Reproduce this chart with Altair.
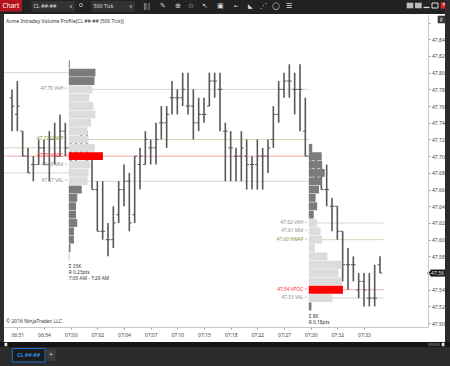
import altair as alt
import pandas as pd

# ---------------- data ----------------
bar_idx = list(range(70))
highs = [47.78, 47.79, 47.73, 47.71, 47.70, 47.72, 47.72, 47.73, 47.74, 47.75,
         47.74, 47.72, 47.72, 47.73, 47.73, 47.70, 47.67, 47.67, 47.62, 47.64,
         47.67, 47.69, 47.68, 47.70, 47.71, 47.73, 47.72, 47.74, 47.76, 47.76,
         47.79, 47.78, 47.80, 47.80, 47.78, 47.77, 47.77, 47.80, 47.80, 47.80,
         47.74, 47.73, 47.71, 47.73, 47.72, 47.70, 47.72, 47.71, 47.72, 47.76,
         47.79, 47.80, 47.81, 47.80, 47.81, 47.77, 47.71, 47.70, 47.69, 47.69,
         47.65, 47.64, 47.61, 47.59, 47.58, 47.56, 47.56, 47.56, 47.57, 47.58]
lows = [47.73, 47.73, 47.70, 47.68, 47.67, 47.69, 47.69, 47.67, 47.69, 47.70,
        47.70, 47.69, 47.69, 47.70, 47.69, 47.66, 47.61, 47.60, 47.58, 47.59,
        47.62, 47.64, 47.61, 47.62, 47.66, 47.69, 47.69, 47.69, 47.72, 47.71,
        47.75, 47.75, 47.76, 47.75, 47.72, 47.73, 47.74, 47.76, 47.77, 47.73,
        47.67, 47.67, 47.67, 47.67, 47.66, 47.66, 47.66, 47.66, 47.68, 47.71,
        47.74, 47.77, 47.77, 47.75, 47.73, 47.70, 47.68, 47.67, 47.66, 47.64,
        47.61, 47.60, 47.55, 47.54, 47.55, 47.53, 47.52, 47.52, 47.52, 47.56]
opens = [47.77, 47.75, 47.73, 47.70, 47.69, 47.69, 47.71, 47.69, 47.72, 47.70,
         47.73, 47.71, 47.70, 47.71, 47.72, 47.70, 47.66, 47.61, 47.60, 47.60,
         47.63, 47.66, 47.67, 47.63, 47.69, 47.69, 47.71, 47.71, 47.74, 47.74,
         47.77, 47.77, 47.77, 47.76, 47.76, 47.74, 47.75, 47.76, 47.79, 47.78,
         47.73, 47.71, 47.70, 47.70, 47.70, 47.69, 47.69, 47.70, 47.70, 47.72,
         47.75, 47.78, 47.79, 47.78, 47.78, 47.73, 47.70, 47.69, 47.68, 47.66,
         47.64, 47.64, 47.61, 47.57, 47.57, 47.54, 47.55, 47.53, 47.53, 47.57]
closes = [47.76, 47.76, 47.70, 47.68, 47.69, 47.71, 47.69, 47.72, 47.70, 47.73,
          47.71, 47.70, 47.71, 47.72, 47.70, 47.66, 47.61, 47.61, 47.60, 47.62,
          47.66, 47.67, 47.62, 47.70, 47.70, 47.72, 47.71, 47.72, 47.74, 47.75,
          47.77, 47.77, 47.78, 47.76, 47.74, 47.75, 47.75, 47.79, 47.79, 47.78,
          47.73, 47.71, 47.70, 47.71, 47.69, 47.69, 47.70, 47.70, 47.71, 47.75,
          47.78, 47.79, 47.79, 47.78, 47.78, 47.70, 47.69, 47.68, 47.66, 47.66,
          47.64, 47.61, 47.57, 47.57, 47.57, 47.55, 47.54, 47.53, 47.53, 47.56]

time_tick_bars = [1, 6, 11, 16, 21, 26, 31, 36, 41, 46, 51, 56, 61, 66]
time_labels = ["06:51", "06:54", "07:00", "07:02", "07:04", "07:07", "07:10",
               "07:15", "07:18", "07:22", "07:27", "07:30", "07:32", "07:33"]
price_ticks = [47.50, 47.52, 47.54, 47.56, 47.58, 47.60, 47.62, 47.64, 47.66,
               47.68, 47.70, 47.72, 47.74, 47.76, 47.78, 47.80, 47.82, 47.84, 47.86]

p1_prices = [47.81, 47.80, 47.79, 47.78, 47.77, 47.76, 47.75, 47.74, 47.73, 47.72,
             47.71, 47.70, 47.69, 47.68, 47.67, 47.66, 47.65, 47.64, 47.63, 47.62,
             47.61, 47.60, 47.59, 47.58]
p1_vols = [90, 2260, 2180, 2000, 1740, 2090, 2260, 1890, 1590, 1680,
           2200, 2900, 1830, 1680, 1590, 1100, 720, 610, 610, 720,
           440, 440, 150, 40]
p2_prices = [47.71, 47.70, 47.69, 47.68, 47.67, 47.66, 47.65, 47.64, 47.63, 47.62,
             47.61, 47.60, 47.59, 47.58, 47.57, 47.56, 47.55, 47.54, 47.53, 47.52]
p2_vols = [90, 340, 350, 420, 340, 270, 180, 220, 130, 220,
           310, 350, 160, 490, 880, 780, 880, 900, 620, 70]

sessions = [0, 1, 2]
session_start_bar = [-2, 11, 56]
session_end_bar = [11, 56, 70]

level_session = [0, 0, 0, 0, 1, 1, 1, 1, 1, 2, 2, 2, 2, 2]
level_name = ["VAH", "VWAP", "VPOC", "VAL",
              "VAH", "VWAP", "VPOC", "Mid", "VAL",
              "VAH", "Mid", "VWAP", "VPOC", "VAL"]
level_price = [47.80, 47.71, 47.70, 47.68,
               47.78, 47.72, 47.70, 47.69, 47.67,
               47.62, 47.61, 47.60, 47.54, 47.53]

stats_session = [1, 1, 1, 2, 2]
stats_line = [0, 1, 2, 0, 1]
stats_text = ["Σ 33K", "R 0.23pts", "7:00 AM - 7:29 AM", "Σ 8K", "R 0.18pts"]

# ---------------- tables ----------------
start_map = dict(zip(sessions, session_start_bar))
end_map = dict(zip(sessions, session_end_bar))

bars = pd.DataFrame({"i": bar_idx, "o": opens, "h": highs, "l": lows, "c": closes})

lv = pd.DataFrame({"session": level_session, "name": level_name, "price": level_price})
lv["start"] = lv.session.map(start_map)
lv["end"] = lv.session.map(end_map)

prof = pd.DataFrame({
    "session": [1] * len(p1_prices) + [2] * len(p2_prices),
    "price": p1_prices + p2_prices,
    "vol": p1_vols + p2_vols,
})


def kind(row):
    sub = lv[lv.session == row.session].set_index("name").price
    if abs(row.price - sub["VPOC"]) < 1e-6:
        return "poc"
    if sub["VAL"] - 1e-6 <= row.price <= sub["VAH"] + 1e-6:
        return "va"
    return "out"


prof["kind"] = prof.apply(kind, axis=1)
prof["start"] = prof.session.map(start_map)

st = pd.DataFrame({"session": stats_session, "line": stats_line, "text": stats_text})
st["start"] = st.session.map(start_map)
st["base"] = st.session.map(prof.groupby("session").price.min())

last = pd.DataFrame({"p": [closes[-1]]})
one = pd.DataFrame({"k": [0]})

# ---------------- scales / axes ----------------
FONT = "Noto Sans"
BAR = "#585858"
X = alt.Scale(domain=[-1.5, 78], nice=False, zero=False)
Y = alt.Scale(domain=[47.4954, 47.8703], nice=False, zero=False)

lab_arr = "[" + ",".join(f"'{t}'" for t in time_labels) + "]"
val_arr = "[" + ",".join(str(v) for v in time_tick_bars) + "]"
x_axis = alt.Axis(values=time_tick_bars, labelExpr=f"{lab_arr}[indexof({val_arr}, datum.value)]",
                  title=None, grid=False, tickSize=2, tickColor="#9a9a9a", domainColor="#c8c8c8",
                  labelFontSize=5, labelColor="#444444", labelFont=FONT, labelPadding=3,
                  labelFlush=False, labelOverlap=False, zindex=1)
y_axis = alt.Axis(orient="right", values=price_ticks,
                  labelExpr="datum.value > 47.85 ? '' : format(datum.value, '.2f')",
                  title=None, grid=False, tickSize=2, tickColor="#9a9a9a", domainColor="#c8c8c8",
                  labelFontSize=5, labelColor="#444444", labelFont=FONT, labelPadding=1.5,
                  labelFlush=False, labelOverlap=False, zindex=1)


def xq(f):
    return alt.X(f"{f}:Q", scale=X, axis=x_axis)


def yq(f):
    return alt.Y(f"{f}:Q", scale=Y, axis=y_axis)


name_dom = ["VAH", "VWAP", "VPOC", "Mid", "VAL"]

lines = alt.Chart(lv).transform_filter("datum.name != 'Mid'").transform_calculate(
    xs="datum.start - 0.35", xe="datum.end - 0.35"
).mark_rule(strokeWidth=1).encode(
    x=xq("xs"), x2="xe:Q", y=yq("price"),
    color=alt.Color("name:N", legend=None,
                    scale=alt.Scale(domain=name_dom,
                                    range=["#d6d6d6", "#d3d8bd", "#f5a9a9", "#d6d6d6", "#d6d6d6"])))

hl = alt.Chart(bars).mark_rule(color=BAR, strokeWidth=1.6).encode(
    x=xq("i"), y=yq("l"), y2="h:Q")
op = alt.Chart(bars).transform_calculate(x0="datum.i - 0.42").mark_rule(
    color=BAR, strokeWidth=1.1).encode(x=xq("x0"), x2="i:Q", y=yq("o"))
cl = alt.Chart(bars).transform_calculate(x1="datum.i + 0.42").mark_rule(
    color=BAR, strokeWidth=1.1).encode(x=xq("i"), x2="x1:Q", y=yq("c"))

profile = alt.Chart(prof).transform_joinaggregate(
    vmax="max(vol)", groupby=["session"]
).transform_calculate(
    x0="datum.start - 0.35",
    x1="datum.start - 0.35 + datum.vol / datum.vmax * 6.4",
    y0="datum.price - 0.0047",
    y1="datum.price + 0.0047",
).mark_rect().encode(
    x=xq("x0"), x2="x1:Q", y=yq("y0"), y2="y1:Q",
    color=alt.Color("kind:N", legend=None,
                    scale=alt.Scale(domain=["out", "va", "poc"],
                                    range=["#7b7b7b", "#dcdcdc", "#ff0000"])))

labels = alt.Chart(lv).transform_filter("datum.session > 0").transform_calculate(
    xs="datum.start - 0.35",
    txt="format(datum.price, '.2f') + ' ' + datum.name + ' >'"
).mark_text(align="right", baseline="middle", dx=-1.5, fontSize=4.8, font=FONT).encode(
    x=xq("xs"), y=yq("price"), text="txt:N",
    color=alt.Color("name:N", legend=None,
                    scale=alt.Scale(domain=name_dom,
                                    range=["#8c8c8c", "#7d9440", "#ff1a1a", "#8c8c8c", "#8c8c8c"])))

stats_layers = []
for ln, dy in [(0, 10.3), (1, 17), (2, 22.7)]:
    stats_layers.append(
        alt.Chart(st).transform_filter(f"datum.line == {ln}").transform_calculate(
            xs="datum.start - 0.35"
        ).mark_text(align="left", baseline="middle", dy=dy, fontSize=4.8, font=FONT,
                    color="#333333").encode(x=xq("xs"), y=yq("base"), text="text:N"))

mk_rect = alt.Chart(last).transform_calculate(
    y0="datum.p - 0.0042", y1="datum.p + 0.0042"
).mark_rect(color="#111111").encode(x=alt.value(426.5), x2=alt.value(441), y=yq("y0"), y2="y1:Q")
mk_tri = alt.Chart(last).mark_point(shape="triangle-left", filled=True, color="#111111",
                                     size=22, opacity=1).encode(x=alt.value(425), y=yq("p"))
mk_txt = alt.Chart(last).transform_calculate(t="format(datum.p, '.2f')").mark_text(
    color="white", fontSize=5, font=FONT, align="center", baseline="middle").encode(
    x=alt.value(433.5), y=yq("p"), text="t:N")


def rect(x, y, x2, y2, color, **kw):
    return alt.Chart(one).mark_rect(color=color, **kw).encode(
        x=alt.value(x), x2=alt.value(x2), y=alt.value(y), y2=alt.value(y2))


def txt(x, y, s, size=5.0, color="#ffffff", align="left", **kw):
    return alt.Chart(one).mark_text(text=s, align=align, baseline="middle", fontSize=size,
                                    color=color, font=FONT, **kw).encode(
        x=alt.value(x), y=alt.value(y))


chrome = [
    txt(2, 6.5, "Acme Intraday Volume Profile(CL ##-## (500 Tick))", 5, "#333333"),
    txt(2, 306.7, "© 2016 NinjaTrader, LLC", 5, "#333333"),
    # toolbar
    rect(-4, -14, 446, 0, "#222222"),
    rect(-4, -14, 18, -2.5, "#b3141c"),
    txt(7, -8.3, "Chart", 6.5, "#ffffff", "center"),
    rect(27.5, -13, 71, -2.5, "#333333"),
    txt(29.5, -7.7, "CL ##-##", 5.3, "#dddddd"),
    txt(67, -7.7, "∨", 5, "#cccccc", "center"),
    alt.Chart(one).mark_point(shape="circle", size=10, color="#dddddd", strokeWidth=1).encode(
        x=alt.value(77), y=alt.value(-9)),
    rect(87.5, -13, 131, -2.5, "#333333"),
    txt(89.5, -7.7, "500 Tick", 5.3, "#dddddd"),
    txt(127, -7.7, "∨", 5, "#cccccc", "center"),
    txt(143, -8, "‖|", 7, "#dddddd", "center"),
    txt(159, -8, "✎", 7, "#dddddd", "center"),
    txt(174, -8, "⊕", 7, "#dddddd", "center"),
    txt(187, -8, "⊖", 7, "#777777", "center"),
    txt(201, -8, "↖", 7, "#dddddd", "center"),
    txt(216, -8, "▣", 7, "#dddddd", "center"),
    txt(232, -8, "▪▫", 6, "#dddddd", "center"),
    txt(246, -8, "◣", 6, "#dddddd", "center"),
    txt(259, -8, "⋰", 7, "#dddddd", "center"),
    txt(272, -8, "◯", 7, "#dddddd", "center"),
    txt(285, -8, "☰", 7, "#dddddd", "center"),
    rect(402.7, -11.3, 409.3, -5.7, "#bdbdbd"),
    rect(411, -11.3, 417.7, -5.7, "#bdbdbd"),
    rect(419.5, -7.2, 425.5, -5.9, "#dddddd"),
    rect(428, -11, 434, -6, "#222222", stroke="#dddddd", strokeWidth=1),
    rect(436.7, -12, 443.3, -5.3, "#d42020"),
    txt(440, -8.7, "×", 6.5, "#ffffff", "center"),
    # F box
    rect(433.7, 1.7, 441, 9.3, "#3a3a3a"),
    txt(437.3, 5.6, "F", 5.5, "#ffffff", "center"),
    # frame
    rect(-4, 0, 0, 328, "#2f2f2f"),
    rect(441, -14, 446, 352, "#2b2b2b"),
    rect(-4, 328, 446, 352, "#2b2b2b"),
    rect(-4, 328, 446, 333, "#151515"),
    rect(0.5, 328.8, 3.3, 332.2, "#e6e6e6"),
    rect(437.7, 328.8, 440.5, 332.2, "#e6e6e6"),
    rect(424, 329, 436, 332, "#444444"),
    # tab
    rect(8.3, 334.5, 41, 348, "#1c1c1c", stroke="#1f70c8", strokeWidth=1),
    txt(24.6, 341.2, "CL ##-##", 5.3, "#2f8ce8", "center", fontWeight="bold"),
    rect(42.7, 334.5, 51.5, 347, "#3c3c3c"),
    txt(47.1, 340.7, "+", 7, "#cfcfcf", "center"),
]

chart = alt.layer(
    lines, hl, op, cl, profile, labels, *stats_layers, mk_rect, mk_tri, mk_txt, *chrome
).resolve_scale(color="independent").properties(
    width=424, height=313,
    autosize=alt.AutoSizeParams(type="none"),
    padding={"left": 4, "top": 14, "right": 22, "bottom": 39},
    background="white",
).configure_view(stroke=None, fill="white")

chart.save("out.html", embed_options={"renderer": "svg", "actions": False})
